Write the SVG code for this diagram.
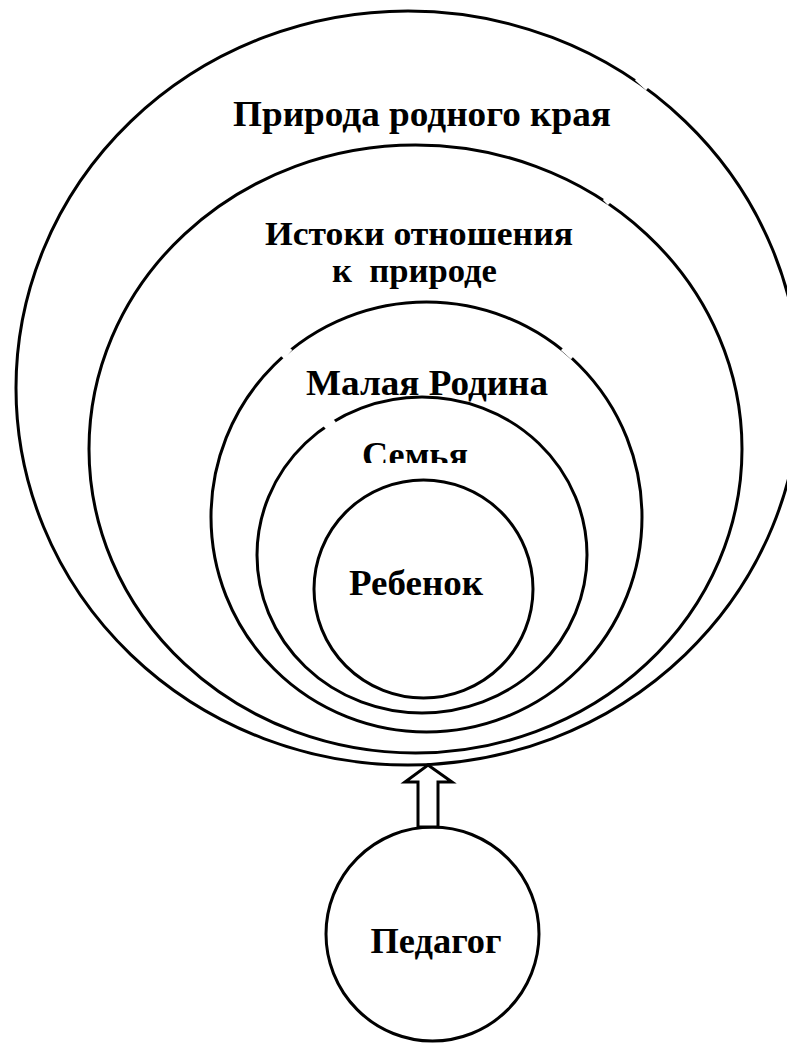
<svg xmlns="http://www.w3.org/2000/svg" width="787" height="1043" viewBox="0 0 787 1043">
<defs>
<style>
.c{fill:#fff;stroke:#000;stroke-width:3}
.t{font-family:"Liberation Serif","Times New Roman",serif;font-weight:bold;font-size:36px;fill:#000;text-anchor:middle;white-space:pre}
.s{font-size:33px}
.gap{stroke:#fff;stroke-width:6;stroke-linecap:butt}
.arrow{fill:#fff;stroke:#000;stroke-width:3;stroke-linejoin:miter}
</style>
<clipPath id="semClip"><rect x="300" y="420" width="250" height="43"/></clipPath>
</defs>
<rect width="787" height="1043" fill="#fff"/>
<g id="priroda">
<ellipse class="c" cx="408" cy="388" rx="392" ry="377"/>
<text class="t" x="422" y="126" textLength="378" lengthAdjust="spacingAndGlyphs">Природа родного края</text>
</g>
<g id="istoki">
<ellipse class="c" cx="415.5" cy="449" rx="326.5" ry="304"/>
<text class="t s" x="419" y="245" textLength="308" lengthAdjust="spacingAndGlyphs">Истоки отношения</text>
<text class="t s" x="414.5" y="282" textLength="165" lengthAdjust="spacingAndGlyphs">к  природе</text>
</g>
<g id="malaya">
<ellipse class="c" cx="426.5" cy="517" rx="215.5" ry="215"/>
<text class="t" x="427" y="395" textLength="242" lengthAdjust="spacingAndGlyphs">Малая Родина</text>
</g>
<g id="semya">
<ellipse class="c" cx="422" cy="555" rx="165" ry="158"/>
<text class="t" x="415" y="467" textLength="106" lengthAdjust="spacingAndGlyphs" clip-path="url(#semClip)">Семья</text>
</g>
<g id="rebenok">
<ellipse class="c" cx="423.5" cy="589" rx="109.5" ry="109"/>
<text class="t" x="416" y="595" textLength="134" lengthAdjust="spacingAndGlyphs">Ребенок</text>
</g>
<g id="gaps">
<line class="gap" x1="637" y1="78" x2="648" y2="88"/>
<line class="gap" x1="605" y1="198" x2="610" y2="203"/>
<line class="gap" x1="290" y1="348" x2="282" y2="357"/>
<line class="gap" x1="563" y1="348" x2="573" y2="357"/>
<line class="gap" x1="334" y1="420" x2="325" y2="428"/>
</g>
<g id="pedagog">
<ellipse class="c" cx="432.5" cy="934" rx="106.5" ry="107"/>
<text class="t" x="436" y="953" textLength="131" lengthAdjust="spacingAndGlyphs">Педагог</text>
</g>
<g id="connectors">
<path class="arrow" d="M428,765 L452,782 L438,782 L438,827 L418,827 L418,782 L405,782 Z"/>
</g>
</svg>
